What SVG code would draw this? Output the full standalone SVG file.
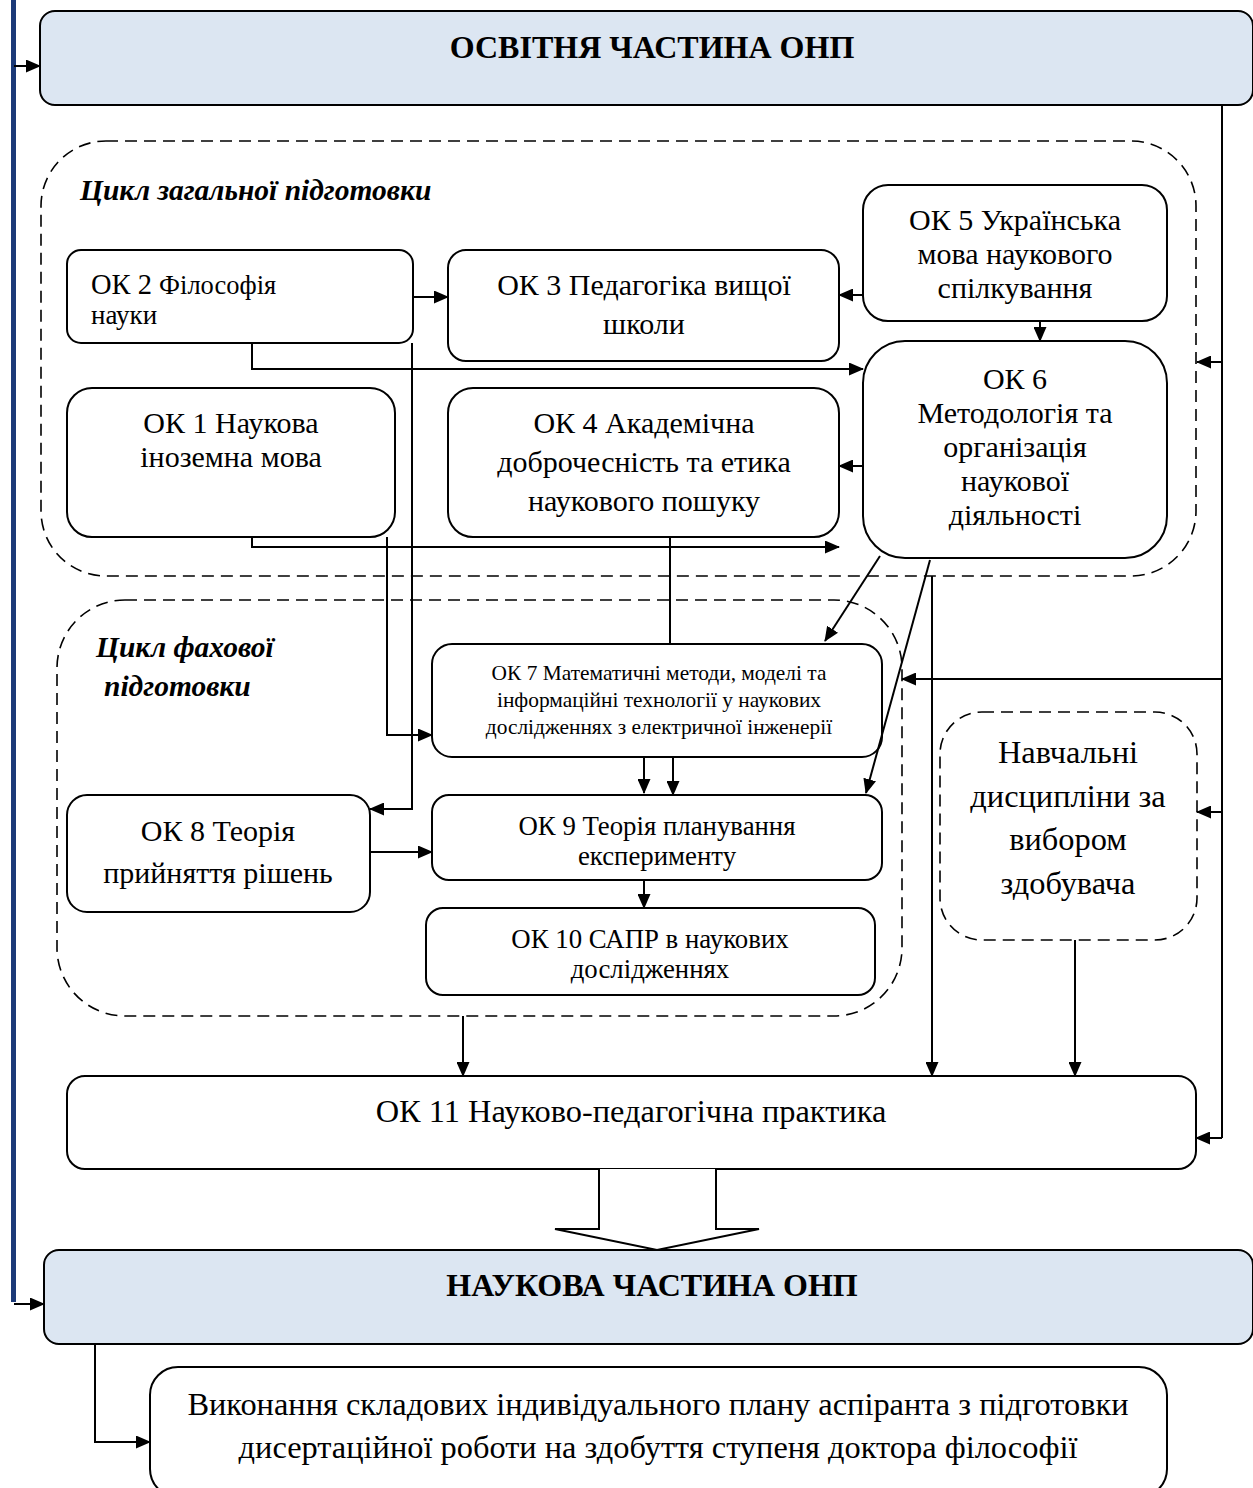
<svg xmlns="http://www.w3.org/2000/svg" width="1253" height="1488" viewBox="0 0 1253 1488">
<defs>
<marker id="ah" markerWidth="15" markerHeight="13" refX="14" refY="6.5" orient="auto" markerUnits="userSpaceOnUse">
<path d="M0,0 L15,6.5 L0,13 Z" fill="#000"/>
</marker>
<style>
.n{fill:#fff;stroke:#000;stroke-width:2}
.h{fill:#dce6f2;stroke:#000;stroke-width:2}
.d{fill:none;stroke:#000;stroke-width:1.6;stroke-dasharray:12 7}
.c{fill:none;stroke:#000;stroke-width:2;marker-end:url(#ah)}
.l{fill:none;stroke:#000;stroke-width:2}
text{font-family:"Liberation Serif","Times New Roman",serif;fill:#000}
.t{text-anchor:middle;font-size:30px}
.s7{font-size:21.4px}
.s9{font-size:26.8px}
.s8{font-size:30px}
.sL{font-size:32.4px}
.b{font-weight:bold;font-size:32px;text-anchor:middle}
.i{font-weight:bold;font-style:italic;font-size:29.5px}
</style>
</defs>
<rect x="11" y="0" width="5" height="1302" fill="#1c3a78"/>
<g id="header1"><rect class="h" x="40" y="11" width="1213" height="94" rx="15"/><text class="b" x="652" y="58">ОСВІТНЯ ЧАСТИНА ОНП</text></g>
<g id="cycle-general"><rect class="d" x="41" y="141" width="1155" height="435" rx="65"/><text class="i" x="80" y="200">Цикл загальної підготовки</text></g>
<g id="cycle-prof"><rect class="d" x="57" y="600" width="845" height="416" rx="68"/><text class="i" x="96" y="657">Цикл фахової</text><text class="i" x="104" y="696">підготовки</text></g>
<g id="ok2"><rect class="n" x="67" y="250" width="346" height="93" rx="14"/><text x="91" y="294" style="font-size:28.5px">ОК 2 <tspan style="font-size:26.5px">Філософія</tspan></text><text x="91" y="324" style="font-size:27px">науки</text></g>
<g id="ok3"><rect class="n" x="448" y="250" width="391" height="111" rx="18"/><text class="t" x="644" y="295">ОК 3 Педагогіка вищої</text><text class="t" x="644" y="334">школи</text></g>
<g id="ok5"><rect class="n" x="863" y="185" width="304" height="136" rx="25"/><text class="t" x="1015" y="230">ОК 5 Українська</text><text class="t" x="1015" y="264">мова наукового</text><text class="t" x="1015" y="298">спілкування</text></g>
<g id="ok6"><rect class="n" x="863" y="341" width="304" height="217" rx="42"/><text class="t" x="1015" y="389">ОК 6</text><text class="t" x="1015" y="423">Методологія та</text><text class="t" x="1015" y="457">організація</text><text class="t" x="1015" y="491">наукової</text><text class="t" x="1015" y="525">діяльності</text></g>
<g id="ok1"><rect class="n" x="67" y="388" width="328" height="149" rx="25"/><text class="t" x="231" y="433">ОК 1 Наукова</text><text class="t" x="231" y="467">іноземна мова</text></g>
<g id="ok4"><rect class="n" x="448" y="388" width="391" height="149" rx="25"/><text class="t" x="644" y="433">ОК 4 Академічна</text><text class="t" x="644" y="472">доброчесність  та етика</text><text class="t" x="644" y="511">наукового пошуку</text></g>
<g id="ok7"><rect class="n" x="432" y="644" width="450" height="113" rx="20"/><text class="t s7" x="659" y="680">ОК 7 Математичні методи, моделі та</text><text class="t s7" x="659" y="707">інформаційні технології у наукових</text><text class="t s7" x="659" y="734">дослідженнях з електричної інженерії</text></g>
<g id="ok8"><rect class="n" x="67" y="795" width="303" height="117" rx="20"/><text class="t s8" x="218" y="841">ОК 8 Теорія</text><text class="t s8" x="218" y="883">прийняття рішень</text></g>
<g id="ok9"><rect class="n" x="432" y="795" width="450" height="85" rx="17"/><text class="t s9" x="657" y="835">ОК 9 Теорія планування</text><text class="t s9" x="657" y="865">експерименту</text></g>
<g id="ok10"><rect class="n" x="426" y="908" width="449" height="87" rx="17"/><text class="t s9" x="650" y="948">ОК 10 САПР в наукових</text><text class="t s9" x="650" y="978">дослідженнях</text></g>
<g id="elective"><rect class="d" x="940" y="712" width="257" height="228" rx="42"/><text class="t sL" x="1068" y="763">Навчальні</text><text class="t sL" x="1068" y="807">дисципліни за</text><text class="t sL" x="1068" y="850">вибором</text><text class="t sL" x="1068" y="894">здобувача</text></g>
<g id="ok11"><rect class="n" x="67" y="1076" width="1129" height="93" rx="18"/><text class="t sL" x="631" y="1122">ОК 11 Науково-педагогічна практика</text></g>
<g id="block-arrow"><path class="n" d="M599,1169 L599,1229 L555,1229 L657,1250 L759,1229 L716,1229 L716,1169" stroke-width="1.6"/></g>
<g id="header2"><rect class="h" x="44" y="1250" width="1209" height="94" rx="15"/><text class="b" x="652" y="1296">НАУКОВА ЧАСТИНА ОНП</text></g>
<g id="final"><rect class="n" x="150" y="1367" width="1017" height="130" rx="28"/><text class="t sL" x="658" y="1415">Виконання складових індивідуального плану аспіранта  з підготовки</text><text class="t sL" x="658" y="1458">дисертаційної роботи на здобуття ступеня доктора філософії</text></g>
<g id="connectors">
<path class="c" d="M14,66 L40,66"/>
<path class="c" d="M14,1304 L44,1304"/>
<path class="l" d="M1222,105 L1222,1138"/>
<path class="c" d="M1222,362 L1197,362"/>
<path class="c" d="M1222,679 L902,679"/>
<path class="c" d="M1222,812 L1197,812"/>
<path class="c" d="M1222,1138 L1196,1138"/>
<path class="c" d="M413,297 L448,297"/>
<path class="c" d="M863,295 L839,295"/>
<path class="c" d="M1040,321 L1040,341"/>
<path class="c" d="M252,343 L252,369 L863,369"/>
<path class="c" d="M412,343 L412,809 L370,809"/>
<path class="c" d="M387,537 L387,735 L432,735"/>
<path class="c" d="M252,537 L252,547 L839,547"/>
<path class="c" d="M863,466 L839,466"/>
<path class="l" d="M670,537 L670,644"/>
<path class="c" d="M880,556 L825,641"/>
<path class="c" d="M930,560 L866,793"/>
<path class="c" d="M644,757 L644,793"/>
<path class="c" d="M673,757 L673,795"/>
<path class="c" d="M370,852 L432,852"/>
<path class="c" d="M644,880 L644,908"/>
<path class="c" d="M463,1016 L463,1076"/>
<path class="c" d="M932,576 L932,1076"/>
<path class="c" d="M1075,940 L1075,1076"/>
<path class="c" d="M95,1344 L95,1442 L150,1442"/>
</g>
</svg>
